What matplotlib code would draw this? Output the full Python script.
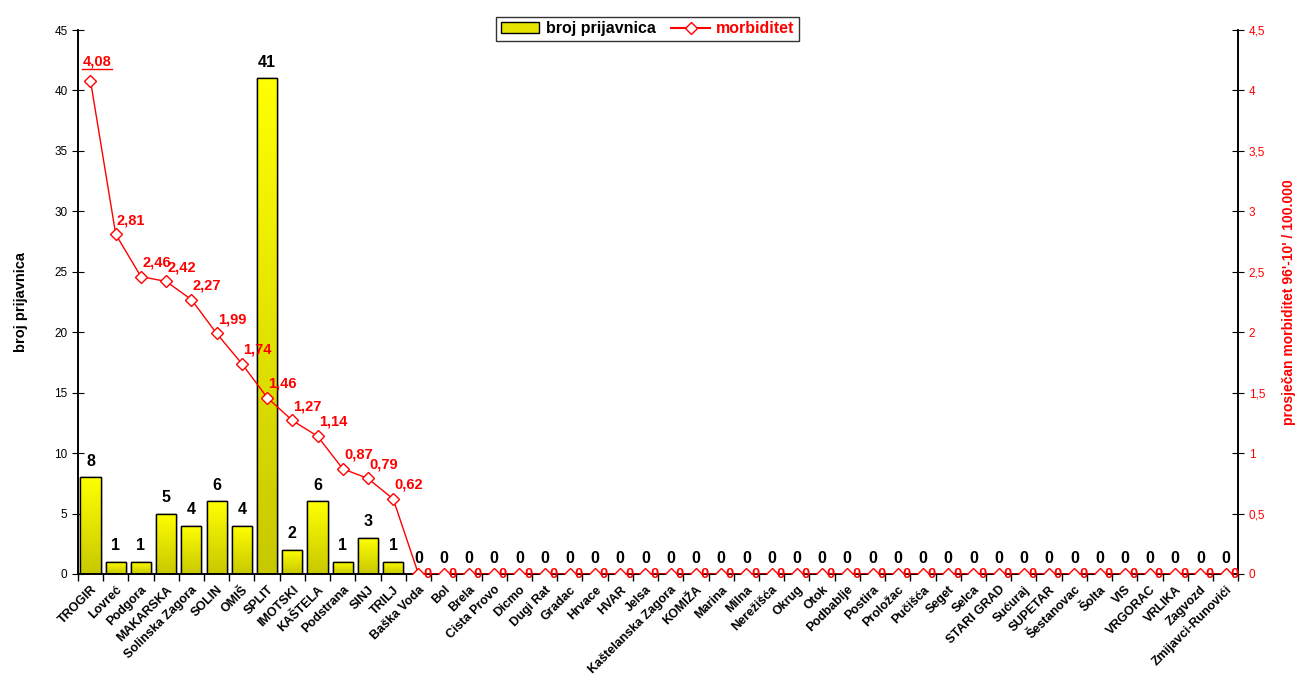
import numpy as np
import matplotlib.pyplot as plt
from matplotlib.ticker import FuncFormatter
from matplotlib.colors import LinearSegmentedColormap
from matplotlib.patches import Patch
from matplotlib.lines import Line2D

plt.rcParams['font.family'] = ['Liberation Sans', 'DejaVu Sans']

places = ['TROGIR', 'Lovreć', 'Podgora', 'MAKARSKA', 'Solinska Zagora', 'SOLIN', 'OMIŠ',
          'SPLIT', 'IMOTSKI', 'KAŠTELA', 'Podstrana', 'SINJ', 'TRILJ', 'Baška Voda', 'Bol',
          'Brela', 'Cista Provo', 'Dicmo', 'Dugi Rat', 'Gradac', 'Hrvace', 'HVAR', 'Jelsa',
          'Kaštelanska Zagora', 'KOMIŽA', 'Marina', 'Milna', 'Nerežišća', 'Okrug', 'Otok',
          'Podbablje', 'Postira', 'Proložac', 'Pučišća', 'Seget', 'Selca', 'STARI GRAD',
          'Sućuraj', 'SUPETAR', 'Šestanovac', 'Šolta', 'VIS', 'VRGORAC', 'VRLIKA', 'Zagvozd',
          'Zmijavci-Runovići']
prijave = [8, 1, 1, 5, 4, 6, 4, 41, 2, 6, 1, 3, 1] + [0] * 33
morbiditet = [4.08, 2.81, 2.46, 2.42, 2.27, 1.99, 1.74, 1.46, 1.27, 1.14, 0.87, 0.79, 0.62] + [0] * 33

def comma(v, pos=None):
    return ('%g' % v).replace('.', ',')

fig = plt.figure(figsize=(12.98, 6.87), dpi=100)
ax = fig.add_axes([0.060, 0.1645, 0.894, 0.7918])
ax2 = ax.twinx()

x = np.arange(len(places))
bars = ax.bar(x, prijave, width=0.8, color='#e4e400', edgecolor='black', linewidth=1, zorder=2)

# yellow gradient inside the bars (bright top, darker bottom)
grad = LinearSegmentedColormap.from_list('yel', ['#c8c800', '#ffff00'])
for b in bars:
    h = b.get_height()
    if h <= 0:
        continue
    im = ax.imshow(np.linspace(0, 1, 100).reshape(-1, 1), cmap=grad, aspect='auto',
                   origin='lower', extent=[b.get_x(), b.get_x() + b.get_width(), 0, h],
                   zorder=2.1)
    im.set_clip_path(b)
    ax.bar(b.get_x() + b.get_width() / 2, h, width=b.get_width(), fill=False,
           edgecolor='black', linewidth=1, zorder=2.2)

for xi, v in zip(x, prijave):
    ax.text(xi, v + 0.7, str(v), ha='center', va='bottom', fontsize=11.5, fontweight='bold')

ax2.plot(x, morbiditet, color='red', linewidth=1, marker='D', markersize=6,
         markerfacecolor='white', markeredgecolor='red', markeredgewidth=1, zorder=3)
for i, (xi, v) in enumerate(zip(x, morbiditet)):
    if i == 0:
        ax2.text(xi + 0.25, v + 0.1, comma(v), color='red', fontsize=10.5, fontweight='bold',
                 ha='center', va='bottom')
        ax2.plot([xi - 0.35, xi + 0.85], [v + 0.1, v + 0.1], color='red', lw=1)
    elif v > 0:
        ax2.text(xi + 0.05, v + 0.06, comma(v), color='red', fontsize=10.5, fontweight='bold',
                 ha='left', va='bottom')
    else:
        ax2.text(xi + 0.35, v, '0', color='red', fontsize=10.5, fontweight='bold',
                 ha='center', va='center')

ax.set_xlim(-0.5, len(places) - 0.5)
ax.set_ylim(0, 45)
ax2.set_ylim(0, 4.5)
ax.set_yticks(np.arange(0, 46, 5))
ax2.set_yticks(np.arange(0, 4.6, 0.5))
ax2.yaxis.set_major_formatter(FuncFormatter(comma))

ax.set_xticks(x)
ax.set_xticklabels(places, rotation=45, ha='right', rotation_mode='anchor',
                   fontsize=9, fontweight='bold')
ax.set_xticks(np.arange(-0.5, len(places), 1), minor=True)
ax.tick_params(axis='x', which='major', length=0, pad=7)
ax.tick_params(axis='x', which='minor', length=5, direction='out', width=1)
ax.tick_params(axis='y', direction='inout', length=8, labelsize=8.5)
ax2.tick_params(axis='y', direction='inout', length=8, labelsize=8.5, colors='black',
                labelcolor='red')

for a in (ax, ax2):
    a.spines['top'].set_visible(False)
    for s in ('left', 'right', 'bottom'):
        a.spines[s].set_linewidth(1.2)

ax.set_ylabel('broj prijavnica', fontsize=10.5, fontweight='bold', labelpad=19)
ax2.set_ylabel("prosječan morbiditet 96'-10' / 100.000", fontsize=10, fontweight='bold',
               color='red', labelpad=12)

handles = [Patch(facecolor='#e4e400', edgecolor='black'),
           Line2D([0], [0], color='red', marker='D', markerfacecolor='white', markersize=6)]
leg = fig.legend(handles, ['broj prijavnica', 'morbiditet'], loc='center',
                 bbox_to_anchor=(0.499, 0.958), ncol=2, frameon=True, fancybox=False,
                 prop={'weight': 'bold', 'size': 11.5}, borderpad=0.3, handlelength=2.4,
                 columnspacing=1.0, handletextpad=0.4)
leg.get_frame().set_edgecolor('black')
leg.get_texts()[1].set_color('red')

fig.savefig('out.png', dpi=100)
